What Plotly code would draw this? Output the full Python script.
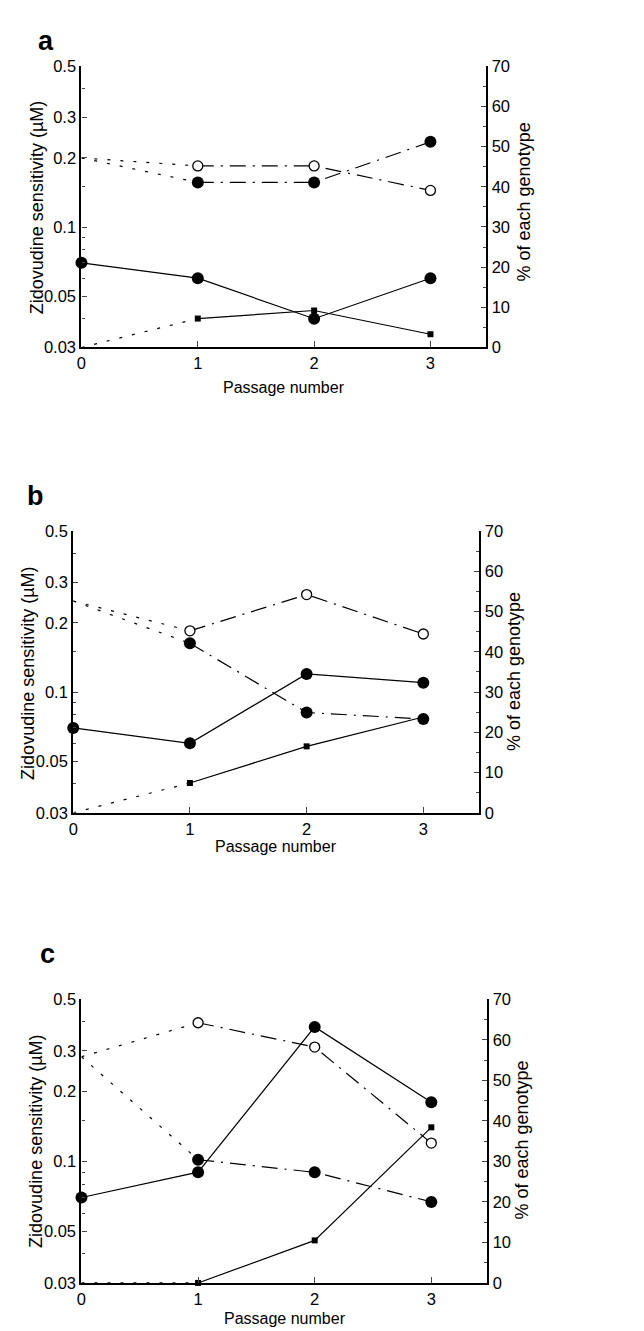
import math
import plotly.graph_objects as go

passage = [0, 1, 2, 3]

# Zidovudine sensitivity (uM), left log axis
a_zdv = [0.07, 0.06, 0.04, 0.06]
b_zdv = [0.07, 0.06, 0.12, 0.11]
c_zdv = [0.07, 0.09, 0.38, 0.18]

# % of each genotype, right axis
a_open = [47.2, 45.2, 45.2, 39.1]
a_filled = [47.2, 41.1, 41.1, 51.2]
a_square = [0, 7.2, 9.2, 3.3]

b_open = [52.6, 45.2, 54.2, 44.4]
b_filled = [52.6, 42.1, 24.9, 23.3]
b_square = [0, 7.4, 16.5, 23.8]

c_open = [55.8, 64.2, 58.2, 34.5]
c_filled = [55.8, 30.4, 27.3, 20.0]
c_square = [0, 0, 10.5, 38.4]

left_ticks = [0.03, 0.05, 0.1, 0.2, 0.3, 0.5]
left_ticktext = ["0.03", "0.05", "0.1", "0.2", "0.3", "0.5"]
left_minor = [0.04, 0.06, 0.07, 0.08, 0.09, 0.15, 0.4]
right_ticks = [0, 10, 20, 30, 40, 50, 60, 70]
x_ticks = [0, 1, 2, 3]

panel_letters = ["a", "b", "c"]

W, H = 644, 1331
FONT = "Liberation Sans, Arial, Helvetica, sans-serif"
DOT = "3px,10px"
DASHDOT = "16px,7px,2px,7px"
LW = 1.2
TICKSIZE = 16.5

# pixel boxes for panels: (left, right, top, bottom)
boxes = [(69, 477, 50, 335), (60.7, 470, 521, 806.7), (69, 478, 995.7, 1283.3)]

fig = go.Figure()

panels = [
    (a_zdv, a_open, a_filled, a_square),
    (b_zdv, b_open, b_filled, b_square),
    (c_zdv, c_open, c_filled, c_square),
]

layout = {}
for i, (zdv, op, fi, sq) in enumerate(panels):
    xa = "x" if i == 0 else f"x{i+1}"
    yl = "y" if i == 0 else f"y{2*i+1}"
    yr = f"y{2*i+2}"
    # genotype: dotted segments from passage 0 to 1
    for vals in (op, fi, sq):
        fig.add_trace(go.Scatter(x=passage[:2], y=vals[:2], mode="lines",
                                 line=dict(color="black", width=LW, dash=DOT),
                                 xaxis=xa, yaxis=yr, showlegend=False, hoverinfo="skip"))
    # squares solid
    fig.add_trace(go.Scatter(x=passage[1:], y=sq[1:], mode="lines+markers",
                             line=dict(color="black", width=LW),
                             marker=dict(symbol="square", size=6, color="black"),
                             cliponaxis=False,
                             xaxis=xa, yaxis=yr, showlegend=False))
    # zidovudine sensitivity solid filled circles
    fig.add_trace(go.Scatter(x=passage, y=zdv, mode="lines+markers",
                             line=dict(color="black", width=LW),
                             marker=dict(symbol="circle", size=12, color="black"),
                             cliponaxis=False,
                             xaxis=xa, yaxis=yl, showlegend=False))
    # filled circles dash-dot
    fig.add_trace(go.Scatter(x=passage[1:], y=fi[1:], mode="lines+markers",
                             line=dict(color="black", width=LW, dash=DASHDOT),
                             marker=dict(symbol="circle", size=12, color="black"),
                             cliponaxis=False,
                             xaxis=xa, yaxis=yr, showlegend=False))
    # open circles dash-dot
    fig.add_trace(go.Scatter(x=passage[1:], y=op[1:], mode="lines+markers",
                             line=dict(color="black", width=LW, dash=DASHDOT),
                             marker=dict(symbol="circle", size=10, color="white",
                                         line=dict(color="black", width=1.3)),
                             cliponaxis=False,
                             xaxis=xa, yaxis=yr, showlegend=False))

    l, r, t, b = boxes[i]
    xdom = [l / W, r / W]
    ydom = [1 - b / H, 1 - t / H]
    xkey = "xaxis" if i == 0 else f"xaxis{i+1}"
    ylkey = "yaxis" if i == 0 else f"yaxis{2*i+1}"
    yrkey = f"yaxis{2*i+2}"
    layout[xkey] = dict(domain=xdom, range=[0, 3.48], anchor=yl,
                        tickvals=x_ticks, ticks="inside", ticklen=6, tickwidth=1.2,
                        showline=True, linewidth=2.2, linecolor="black",
                        showgrid=False, zeroline=False,
                        tickfont=dict(family=FONT, size=TICKSIZE, color="black"))
    layout[ylkey] = dict(domain=ydom, type="log", anchor=xa,
                         range=[math.log10(0.03), math.log10(0.5)],
                         tickvals=left_ticks, ticktext=left_ticktext,
                         ticks="inside", ticklen=5, tickwidth=1.2,
                         minor=dict(tickvals=left_minor, ticks="inside", ticklen=3, tickwidth=1),
                         showline=True, linewidth=2.2, linecolor="black",
                         showgrid=False, zeroline=False,
                         tickfont=dict(family=FONT, size=TICKSIZE, color="black"))
    layout[yrkey] = dict(overlaying=yl, side="right", anchor=xa, range=[0, 70],
                         tickvals=right_ticks, ticks="inside", ticklen=5, tickwidth=1.2,
                         minor=dict(dtick=5, ticks="inside", ticklen=3, tickwidth=1),
                         showline=True, linewidth=2.2, linecolor="black",
                         showgrid=False, zeroline=False,
                         tickfont=dict(family=FONT, size=TICKSIZE, color="black"))

# text annotations (axis titles, panel letters)
ann = []
letter_pos = [(33.5, 24), (22.5, 486), (35, 949.5)]
xtitle_pos = [(273, 376), (265, 841), (274, 1319)]
ltitle_pos = [(25, 193), (15, 665), (23, 1139.5)]
rtitle_pos = [(515, 188), (505, 664), (513, 1139)]
for i in range(3):
    lx, ly = letter_pos[i]
    ann.append(dict(x=lx / W, y=1 - ly / H, xref="paper", yref="paper",
                    text=f"<b>{panel_letters[i]}</b>", showarrow=False,
                    font=dict(family=FONT, size=27, color="black"),
                    xanchor="center", yanchor="middle"))
    tx, ty = xtitle_pos[i]
    ann.append(dict(x=tx / W, y=1 - ty / H, xref="paper", yref="paper",
                    text="Passage number", showarrow=False,
                    font=dict(family=FONT, size=16, color="black"),
                    xanchor="center", yanchor="middle"))
    px, py = ltitle_pos[i]
    ann.append(dict(x=px / W, y=1 - py / H, xref="paper", yref="paper",
                    text="Zidovudine sensitivity (µM)", showarrow=False, textangle=-90,
                    font=dict(family=FONT, size=18, color="black"),
                    xanchor="center", yanchor="middle"))
    qx, qy = rtitle_pos[i]
    ann.append(dict(x=qx / W, y=1 - qy / H, xref="paper", yref="paper",
                    text="% of each genotype", showarrow=False, textangle=-90,
                    font=dict(family=FONT, size=18, color="black"),
                    xanchor="center", yanchor="middle"))

fig.update_layout(width=W, height=H, margin=dict(l=0, r=0, t=0, b=0),
                  paper_bgcolor="white", plot_bgcolor="white",
                  showlegend=False, annotations=ann, **layout)

fig.write_html("out.html")
